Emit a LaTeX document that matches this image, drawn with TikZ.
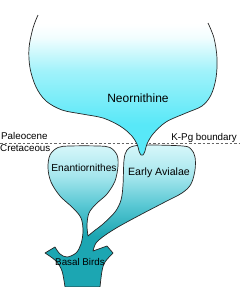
\documentclass[tikz,border=0pt]{standalone}
\usepackage{fontspec}
\setmainfont{Liberation Sans}
\definecolor{neoC}{RGB}{88,232,248}
\definecolor{neoM}{RGB}{160,242,250}
\definecolor{lowTop}{RGB}{215,247,250}
\definecolor{lowA}{RGB}{165,230,237}
\definecolor{lowB}{RGB}{90,200,212}
\definecolor{teal}{RGB}{28,166,178}
\pgfdeclareverticalshading{neoshade}{100bp}{color(0bp)=(neoC); color(36bp)=(neoC); color(55bp)=(neoM); color(67bp)=(white!92!neoC); color(72bp)=(white); color(100bp)=(white)}
\pgfdeclareverticalshading{lowshade}{100bp}{color(0bp)=(teal); color(43bp)=(teal); color(54bp)=(lowB); color(64bp)=(lowA); color(75bp)=(lowTop); color(100bp)=(lowTop)}
\begin{document}
\begin{tikzpicture}[x=1pt,y=-1pt,
  outline/.style={draw=black!85, line width=0.7pt, line join=round},
  lab/.style={inner sep=0pt, font=\fontsize{9.8}{11}\selectfont}]
\useasboundingbox (0,0) rectangle (239,287);
% K-Pg boundary line
\coordinate (bl) at (0,143);
\coordinate (br) at (239,143);
\draw[black!60, line width=0.5pt, dash pattern=on 2.5pt off 2pt] (bl) -- (br);
% lower shape: Enantiornithes, Early Avialae, Basal Birds
\path[shading=lowshade, outline]
  plot[smooth, tension=0.55] coordinates {(88,236) (87,225) (89,213) (96,204) (107,194) (115,181) (118,166) (117,155) (110,147.5) (98,146) (70,146) (58,147.5) (50,155) (48,168) (51,182) (60,196) (73,208) (81,218) (83,231) (81,244) (76,253) (67,257) (60,254) (55,247)}
  -- plot[smooth, tension=0.55] coordinates {(45,253) (56,261) (62,271) (65,287)}
  -- plot[smooth, tension=0.55] coordinates {(100,287) (102,271) (105,262) (113,253)}
  -- (107,246) --
  plot[smooth, tension=0.55] coordinates {(93,251) (96,243) (104,236) (118,227) (140,215) (163,203) (182,193) (191,184) (195,170) (195,157) (191,149) (183,146) (150,145) (134,146) (127,150) (124,160) (123,185) (121,200) (115,212) (103,224) (94,231) (88,236)}
  -- cycle;
% Neornithine
\shade[shading=neoshade]
  plot[smooth, tension=0.55] coordinates {(38,15) (33,28) (29,48) (30,68) (36,87) (46,101) (62,110) (82,114) (103,118) (120,126) (131,135) (137,144) (139,151) (141,155) (143,155) (145,151) (147,144) (153,134) (166,122) (186,113) (202,106) (211,95) (216,78) (217,58) (214,38) (208,23)} -- cycle;
\draw[outline]
  plot[smooth, tension=0.55] coordinates {(38,15) (33,28) (29,48) (30,68) (36,87) (46,101) (62,110) (82,114) (103,118) (120,126) (131,135) (137,144) (139,151) (141,155) (143,155) (145,151) (147,144) (153,134) (166,122) (186,113) (202,106) (211,95) (216,78) (217,58) (214,38) (208,23)};
% labels
\node[inner sep=0pt, font=\fontsize{12}{14}\selectfont] (neo) at (138,98) {Neornithine};
\node[lab, anchor=west] (pal) at (1,136) {Paleocene};
\node[lab, anchor=west] (cre) at (0,148.5) {Cretaceous};
\node[lab, anchor=east] (kpg) at (237,137.5) {K-Pg boundary};
\node[lab, font=\fontsize{10.2}{12}\selectfont] (ena) at (84,168) {Enantiornithes};
\node[lab, font=\fontsize{10.6}{12}\selectfont] (ea) at (159,173) {Early Avialae};
\node[lab] (bb) at (80,262) {Basal Birds};
\end{tikzpicture}
\end{document}
